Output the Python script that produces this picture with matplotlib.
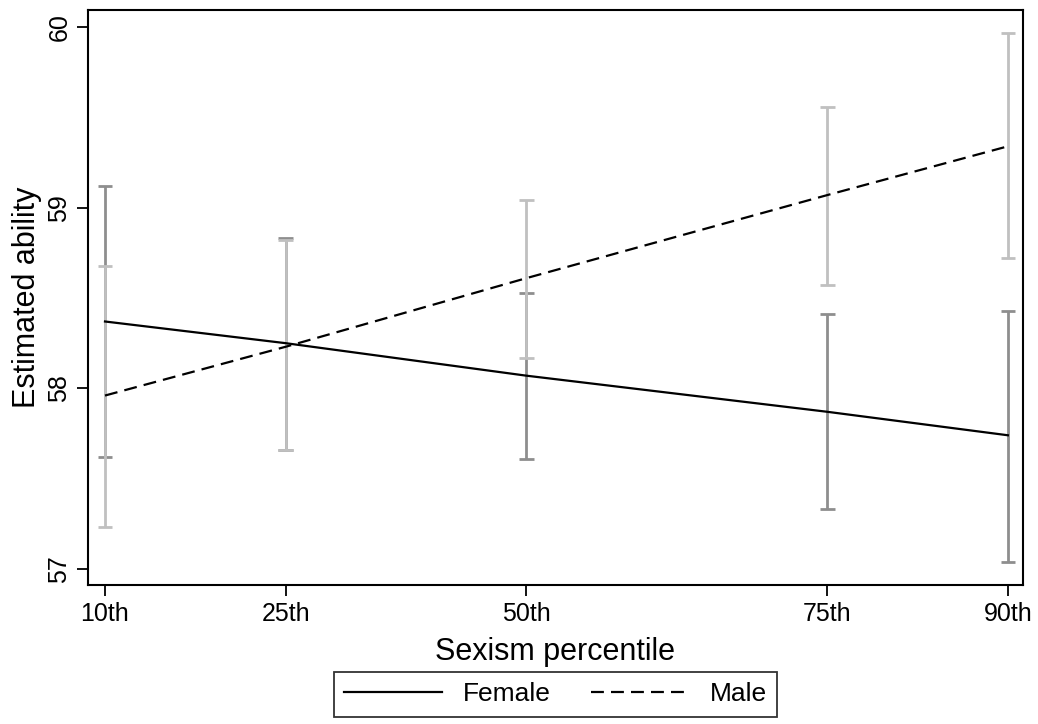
import matplotlib
matplotlib.use("Agg")
import matplotlib.pyplot as plt

plt.rcParams['font.family'] = ['Liberation Sans', 'DejaVu Sans']

# sexism score positions of the percentiles (relative)
x_pos = [0, 3, 7, 12, 15]
tick_labels = ['10th', '25th', '50th', '75th', '90th']

female_mean = [58.37, 58.25, 58.07, 57.87, 57.74]
female_lo = [57.62, 57.66, 57.61, 57.33, 57.04]
female_hi = [59.12, 58.83, 58.53, 58.41, 58.43]

male_mean = [57.96, 58.23, 58.61, 59.07, 59.34]
male_lo = [57.23, 57.66, 58.17, 58.57, 58.72]
male_hi = [58.68, 58.82, 59.04, 59.56, 59.97]

fig = plt.figure(figsize=(10.38, 7.24), dpi=100)
ax = fig.add_axes([0.0848, 0.192, 0.9007, 0.794])

# confidence intervals
cap = 0.12
ax.vlines(x_pos, female_lo, female_hi, color='#8e8e8e', lw=2, zorder=1)
ax.hlines(female_lo + female_hi, [x - cap for x in x_pos * 2], [x + cap for x in x_pos * 2],
          color='#8e8e8e', lw=2, zorder=1)
ax.vlines(x_pos, male_lo, male_hi, color='#c0c0c0', lw=2, zorder=2)
ax.hlines(male_lo + male_hi, [x - cap for x in x_pos * 2], [x + cap for x in x_pos * 2],
          color='#c0c0c0', lw=2, zorder=2)

# predicted values
ax.plot(x_pos, female_mean, color='black', lw=1.6, ls='-', label='Female', zorder=3)
ax.plot(x_pos, male_mean, color='black', lw=1.6, ls=(0, (5.8, 3.2)), label='Male', zorder=3)

ax.set_xlim(-0.282, 15.25)
ax.set_ylim(56.911, 60.094)
ax.set_xticks(x_pos)
ax.set_xticklabels(tick_labels, fontsize=18)
ax.set_yticks([57, 58, 59, 60])
ax.set_yticklabels(['57', '58', '59', '60'], fontsize=18, rotation=90, va='center')
ax.tick_params(direction='out', length=8, width=1.3, pad=4)
for s in ax.spines.values():
    s.set_linewidth(1.5)

ax.set_xlabel('Sexism percentile', fontsize=22, labelpad=8)
ax.set_ylabel('Estimated ability', fontsize=22, labelpad=4)

leg = ax.legend(loc='upper center', bbox_to_anchor=(0.5, -0.151), ncol=2,
                fontsize=19, frameon=True, fancybox=False, edgecolor='black',
                handlelength=3.7, handletextpad=0.8, columnspacing=1.5,
                borderpad=0.4, borderaxespad=0)
leg.get_frame().set_linewidth(1.3)

fig.savefig('out.png', dpi=100)
